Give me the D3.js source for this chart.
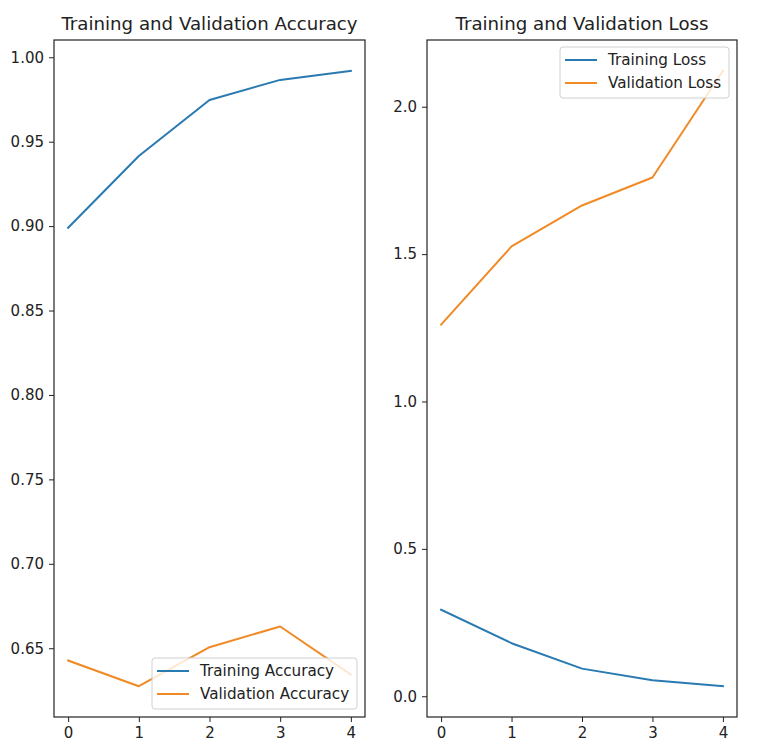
<!DOCTYPE html>
<html><head><meta charset="utf-8">
<script src="https://cdn.jsdelivr.net/npm/d3@7"></script>
<style>body{margin:0;background:#fff}svg{display:block}text{font-family:"DejaVu Sans",sans-serif;fill:#222}</style>
</head><body><svg id="c" width="760" height="755"></svg>
<script>
const epochs = [0, 1, 2, 3, 4];
const trainAcc = [0.899, 0.9415, 0.9747, 0.9866, 0.992];
const valAcc = [0.6427, 0.6275, 0.6506, 0.6629, 0.6344];
const trainLoss = [0.2934, 0.180, 0.0937, 0.054, 0.034];
const valLoss = [1.261, 1.526, 1.665, 1.760, 2.122];
const accTicks = [0.65, 0.70, 0.75, 0.80, 0.85, 0.90, 0.95, 1.00];
const lossTicks = [0.0, 0.5, 1.0, 1.5, 2.0];
const xTicks = [0, 1, 2, 3, 4];
const BLUE = "#2a7ab2", ORANGE = "#f08a26";

const svg = d3.select("#c");

function panel(o) {
  const g = svg.append("g");
  const allY = o.series.flatMap(s => s.values);
  const lo = d3.min(allY), hi = d3.max(allY), m = (hi - lo) * 0.05;
  const x = d3.scaleLinear().domain([-0.2, 4.2]).range([o.x0, o.x1]);
  const y = d3.scaleLinear().domain([lo - m, hi + m]).range([o.y1, o.y0]);

  const ya = g.append("g").attr("transform", `translate(${o.x0},0)`)
    .call(d3.axisLeft(y).tickValues(o.yTicks).tickFormat(o.fmt).tickSize(5).tickPadding(5));
  const xa = g.append("g").attr("transform", `translate(0,${o.y1})`)
    .call(d3.axisBottom(x).tickValues(xTicks).tickFormat(d3.format("d")).tickSize(5).tickPadding(5));
  [ya, xa].forEach(a => {
    a.select(".domain").remove();
    a.selectAll("line").attr("stroke", "#222").attr("stroke-width", 1);
    a.selectAll("text").style("font-size", "15px").style("font-family", "DejaVu Sans").attr("fill", "#222");
  });

  const line = d3.line().x((d, i) => x(epochs[i])).y(d => y(d));
  o.series.forEach(s => {
    g.append("path").datum(s.values).attr("d", line).attr("fill", "none")
      .attr("stroke", s.color).attr("stroke-width", 2).attr("stroke-linejoin", "round").attr("stroke-linecap", "square");
  });

  g.append("rect").attr("x", o.x0).attr("y", o.y0).attr("width", o.x1 - o.x0).attr("height", o.y1 - o.y0)
    .attr("fill", "none").attr("stroke", "#222").attr("stroke-width", 1.2);

  g.append("text").attr("x", (o.x0 + o.x1) / 2).attr("y", o.y0 - 10).attr("text-anchor", "middle")
    .style("font-size", "18.2px").text(o.title);

  const L = o.legend;
  g.append("rect").attr("x", L.x).attr("y", L.y).attr("width", L.w).attr("height", 51).attr("rx", 3)
    .attr("fill", "#fff").attr("fill-opacity", 0.8).attr("stroke", "#d0d0d0").attr("stroke-width", 1);
  o.series.forEach((s, i) => {
    const cy = L.y + 13 + i * 23;
    g.append("line").attr("x1", L.x + 5).attr("x2", L.x + 37).attr("y1", cy).attr("y2", cy)
      .attr("stroke", s.color).attr("stroke-width", 2);
    g.append("text").attr("x", L.x + 48).attr("y", cy + 5).style("font-size", "15.2px").text(s.name);
  });
}

panel({
  x0: 54, x1: 365, y0: 40, y1: 717,
  title: "Training and Validation Accuracy",
  yTicks: accTicks, fmt: d3.format(".2f"),
  series: [{name: "Training Accuracy", values: trainAcc, color: BLUE},
           {name: "Validation Accuracy", values: valAcc, color: ORANGE}],
  legend: {x: 152, y: 658, w: 205}
});
panel({
  x0: 427, x1: 737, y0: 40, y1: 717,
  title: "Training and Validation Loss",
  yTicks: lossTicks, fmt: d3.format(".1f"),
  series: [{name: "Training Loss", values: trainLoss, color: BLUE},
           {name: "Validation Loss", values: valLoss, color: ORANGE}],
  legend: {x: 560, y: 47, w: 169}
});
</script></body></html>
